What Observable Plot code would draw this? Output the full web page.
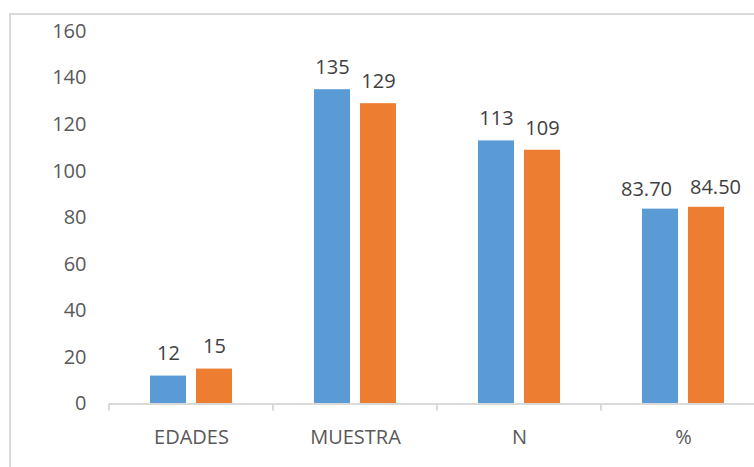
<!DOCTYPE html>
<html><head><meta charset="utf-8">
<script src="https://cdn.jsdelivr.net/npm/d3@7"></script>
<script src="https://cdn.jsdelivr.net/npm/@observablehq/plot@0.6"></script>
<style>
html,body{margin:0;padding:0;background:#fff;overflow:hidden;width:754px;height:467px}
#wrap{position:relative;width:754px;height:467px;overflow:hidden}
#border{position:absolute;left:9px;top:13px;width:800px;height:500px;border:2px solid #d9d9d9;box-sizing:border-box}
#chart{position:absolute;left:0;top:0;width:766px}
#chart svg{max-width:none !important}
</style></head><body><div id="wrap"><div id="border"></div><div id="chart"></div></div>
<script>
const categories = ["EDADES", "MUESTRA", "N", "%"];
const seriesNames = ["Serie 1", "Serie 2"];
const serie1 = [12, 135, 113, 83.7];
const serie2 = [15, 129, 109, 84.5];
const labels1 = ["12", "135", "113", "83.70"];
const labels2 = ["15", "129", "109", "84.50"];
const yTicks = [0, 20, 40, 60, 80, 100, 120, 140, 160];

const data = categories.flatMap((c, i) => [
  {cat: c, serie: seriesNames[0], value: serie1[i], label: labels1[i]},
  {cat: c, serie: seriesNames[1], value: serie2[i], label: labels2[i]}
]);

// Labels of the last group are pushed apart (as Excel does) so they don't collide
const crowded = categories[categories.length - 1];
const textStyle = {fx: "cat", x: "serie", y: "value", text: "label", lineAnchor: "middle", dy: -22, fill: "#404040", fontSize: 20};

const plot = Plot.plot({
  width: 766, height: 467,
  marginLeft: 107, marginRight: 0, marginTop: 31, marginBottom: 63.5,
  style: {fontFamily: "'Open Sans', sans-serif", fontSize: "20px", background: "transparent", overflow: "visible", color: "#595959", maxWidth: "none"},
  fx: {domain: categories, padding: 0, label: null},
  x: {domain: seriesNames, paddingInner: 0.213, paddingOuter: 0.858, axis: null},
  y: {domain: [0, 160], label: null},
  color: {domain: seriesNames, range: ["#5b9bd5", "#ed7d31"]},
  marks: [
    Plot.axisY({ticks: yTicks, tickSize: 0, tickPadding: 23, label: null, fill: "#595959", fontSize: 20}),
    Plot.axisFx({anchor: "bottom", tickSize: 0, tickPadding: 26, label: null, fill: "#595959", fontSize: 20}),
    Plot.barY(data, {fx: "cat", x: "serie", y: "value", fill: "serie"}),
    Plot.ruleY([0], {stroke: "#d9d9d9", strokeWidth: 2}),
    Plot.text(data.filter(d => d.cat !== crowded), textStyle),
    Plot.text(data.filter(d => d.cat === crowded && d.serie === seriesNames[0]), {...textStyle, dy: -20, dx: -14}),
    Plot.text(data.filter(d => d.cat === crowded && d.serie === seriesNames[1]), {...textStyle, dy: -20, dx: 9})
  ]
});

// category boundary ticks, positioned from the library's fx and y scales
const fx = plot.scale("fx");
const ys = plot.scale("y");
const y0 = ys.apply(0);
const bounds = categories.map(c => fx.apply(c));
bounds.push(fx.apply(categories[categories.length - 1]) + fx.bandwidth);
d3.select(plot).append("g")
  .selectAll("line").data(bounds).join("line")
  .attr("x1", d => d).attr("x2", d => d)
  .attr("y1", y0).attr("y2", y0 + 7)
  .attr("stroke", "#d9d9d9").attr("stroke-width", 2);

document.getElementById("chart").appendChild(plot);
</script></body></html>
